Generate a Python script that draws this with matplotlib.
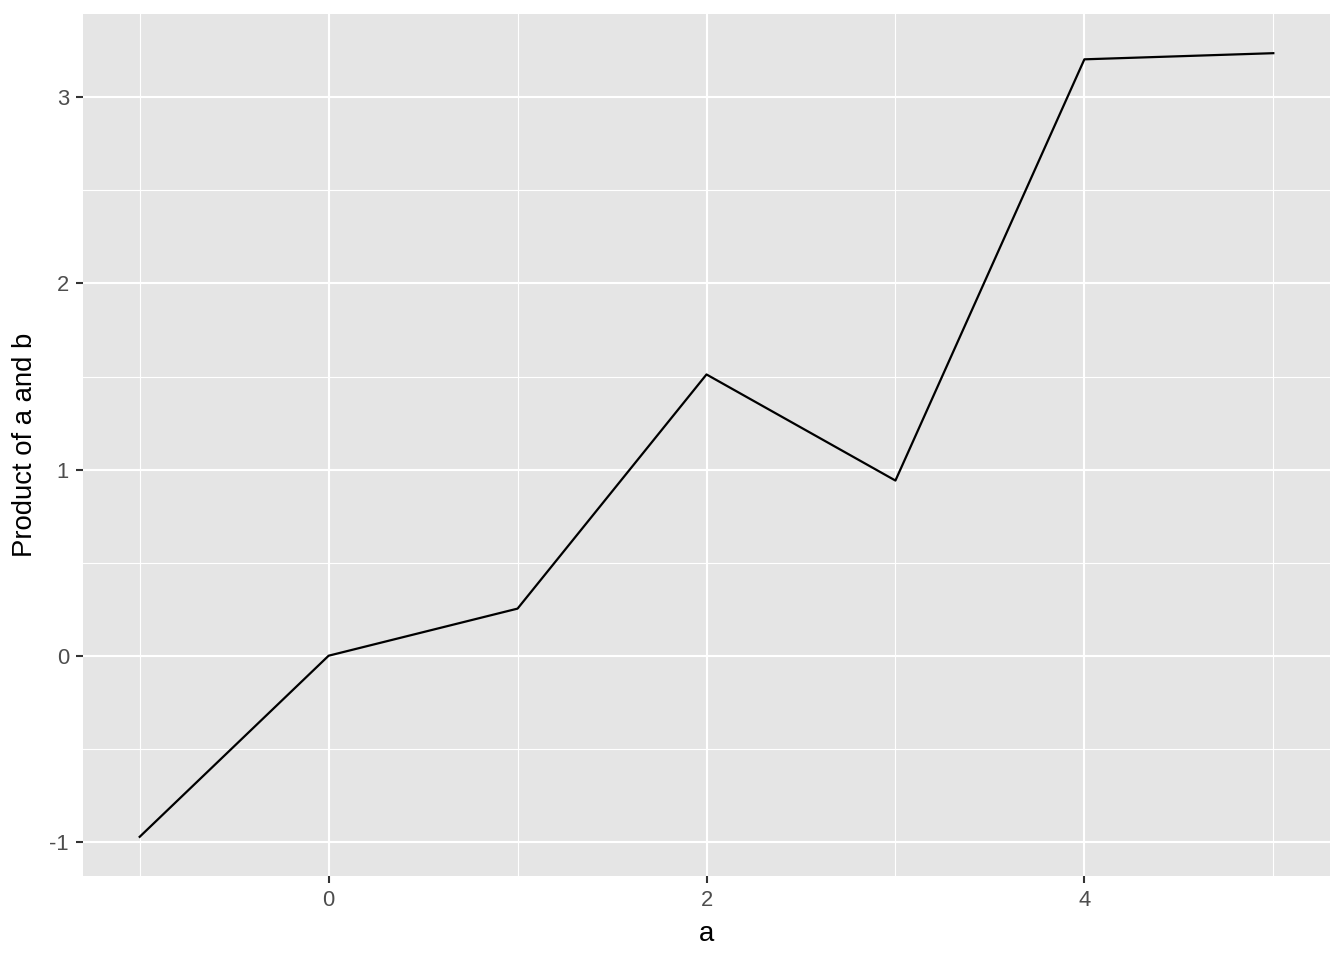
import numpy as np
import matplotlib
matplotlib.use('Agg')
import matplotlib.pyplot as plt
from matplotlib.ticker import MultipleLocator

# data
a = [-1, 0, 1, 2, 3, 4, 5]
prod = [-0.973, 0.0, 0.253, 1.511, 0.941, 3.204, 3.237]

plt.rcParams['font.family'] = ['Liberation Sans', 'DejaVu Sans']

fig = plt.figure(figsize=(13.44, 9.6), dpi=100)
ax = fig.add_axes([83/1344, 1-876/960, (1330-83)/1344, (876-14)/960])
ax.set_facecolor('#E5E5E5')
for s in ax.spines.values():
    s.set_visible(False)

xr = max(a) - min(a)
ax.set_xlim(min(a) - 0.05*xr, max(a) + 0.05*xr)
yr = max(prod) - min(prod)
ax.set_ylim(min(prod) - 0.05*yr, max(prod) + 0.05*yr)

ax.xaxis.set_major_locator(MultipleLocator(2))
ax.xaxis.set_minor_locator(MultipleLocator(1))
ax.yaxis.set_major_locator(MultipleLocator(1))
ax.yaxis.set_minor_locator(MultipleLocator(0.5))

ax.grid(which='major', color='white', linewidth=1.5)
ax.grid(which='minor', color='white', linewidth=0.8)
ax.set_axisbelow(True)

ax.plot(a, prod, color='black', linewidth=1.6, zorder=3)

ax.tick_params(which='major', length=5, width=1.5, color='#333333',
               labelcolor='#4D4D4D', labelsize=15.84, pad=5)
ax.tick_params(which='minor', length=0)
ax.set_xticklabels([str(int(t)) for t in ax.get_xticks()])
ax.set_yticklabels([str(int(t)) for t in ax.get_yticks()])

ax.set_xlabel('a', fontsize=19.8, color='black', labelpad=7)
ax.set_ylabel('Product of a and b', fontsize=19.8, color='black', labelpad=8)

fig.savefig('out.png', dpi=100)
